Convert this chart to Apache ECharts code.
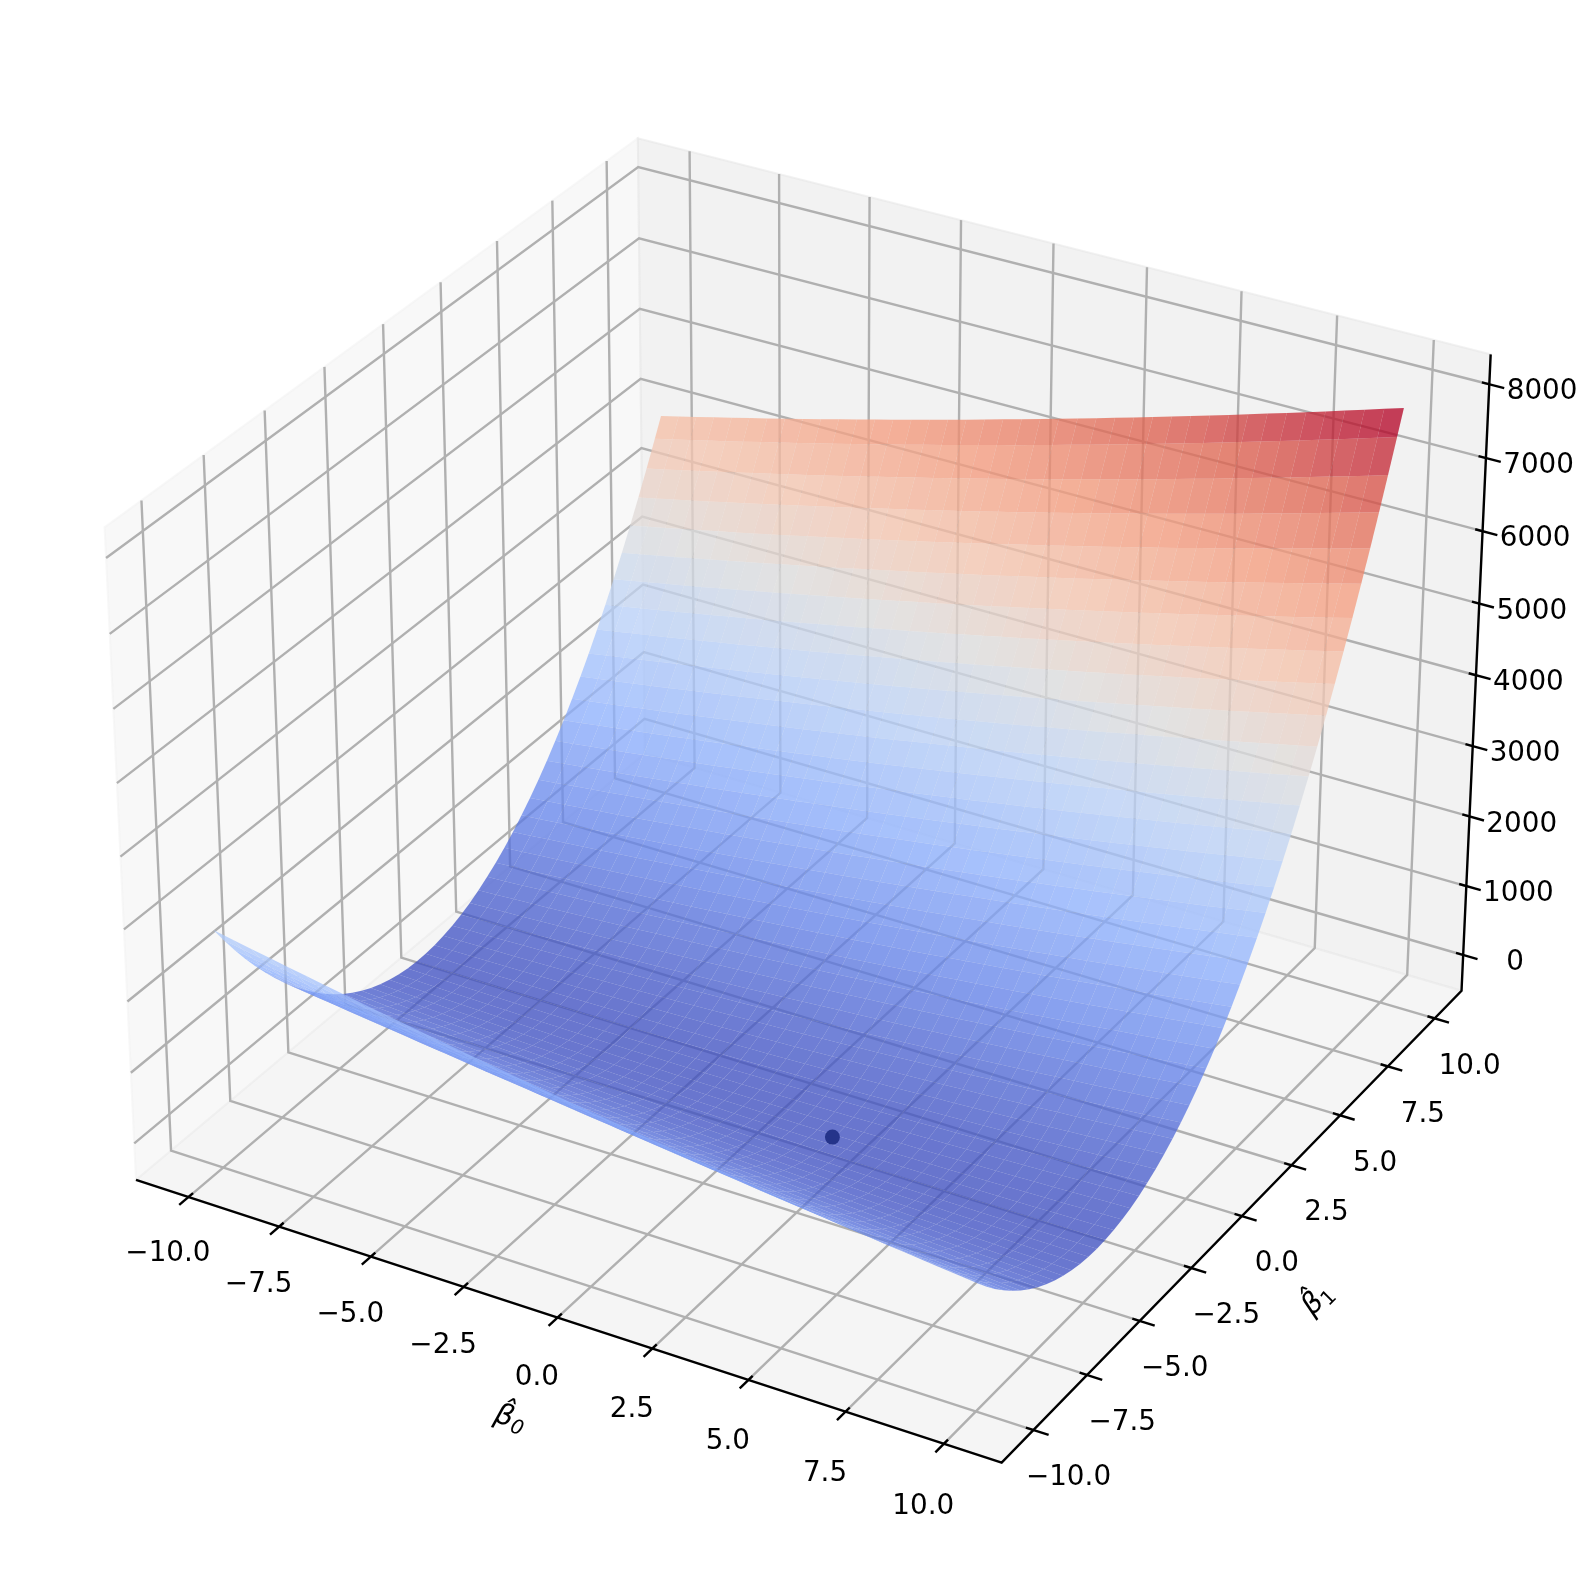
<!DOCTYPE html>
<html><head><meta charset="utf-8"><style>html,body{margin:0;background:#fff}#c{width:1596px;height:1580px}</style>
<script src="https://cdn.jsdelivr.net/npm/echarts@6/dist/echarts.min.js"></script></head><body><div id="c"></div><script>
const b0Grid=[-10,-9.5,-9,-8.5,-8,-7.5,-7,-6.5,-6,-5.5,-5,-4.5,-4,-3.5,-3,-2.5,-2,-1.5,-1,-0.5,0,0.5,1,1.5,2,2.5,3,3.5,4,4.5,5,5.5,6,6.5,7,7.5,8,8.5,9,9.5,10];
const b1Grid=[-10,-9.598,-9.196,-8.794,-8.392,-7.99,-7.588,-7.186,-6.784,-6.382,-5.98,-5.578,-5.176,-4.774,-4.372,-3.97,-3.568,-3.166,-2.764,-2.362,-1.96,-1.558,-1.156,-0.754,-0.352,0.05,0.452,0.854,1.256,1.658,2.06,2.462,2.864,3.266,3.668,4.07,4.472,4.874,5.276,5.678,6.08,6.482,6.884,7.286,7.688,8.09,8.492,8.894,9.296,9.698,10];
// loss at each (b0, b1); one row per b1 value
const lossTable=[
[2825,2776,2727,2679,2631,2584,2537,2491,2445,2400,2355,2311,2267,2224,2181,2139,2097,2056,2015,1975,1935,1896,1857,1819,1781,1744,1707,1671,1635,1600,1565,1531,1497,1464,1431,1399,1367,1336,1305,1275,1245],
[2573,2526,2479,2433,2388,2342,2298,2254,2210,2167,2125,2083,2041,2000,1960,1920,1880,1841,1802,1764,1727,1690,1653,1617,1582,1547,1512,1478,1445,1412,1379,1347,1315,1284,1254,1224,1194,1165,1137,1109,1081],
[2332,2288,2243,2199,2156,2113,2071,2029,1988,1947,1907,1867,1827,1789,1750,1712,1675,1638,1602,1566,1531,1496,1462,1428,1394,1362,1329,1297,1266,1235,1205,1175,1146,1117,1089,1061,1034,1007,980,955,929],
[2104,2062,2020,1978,1937,1896,1856,1816,1777,1739,1701,1663,1626,1589,1553,1517,1482,1448,1414,1380,1347,1314,1282,1250,1219,1189,1159,1129,1100,1071,1043,1016,989,962,936,910,885,860,836,813,790],
[1888,1848,1808,1769,1730,1691,1653,1616,1579,1543,1507,1471,1436,1402,1368,1335,1302,1269,1237,1206,1175,1145,1115,1085,1057,1028,1000,973,946,920,894,868,843,819,795,772,749,726,704,683,662],
[1685,1646,1609,1571,1535,1499,1463,1428,1393,1359,1325,1292,1259,1227,1195,1164,1133,1103,1074,1044,1016,987,960,933,906,880,854,829,804,780,756,733,710,688,666,645,625,604,585,566,547],
[1493,1457,1421,1386,1352,1318,1285,1252,1219,1187,1156,1125,1094,1064,1035,1006,977,949,922,895,868,842,817,792,767,743,720,697,674,652,631,610,589,569,550,531,513,494,477,460,444],
[1313,1280,1246,1214,1181,1150,1118,1087,1057,1027,998,969,941,913,886,859,833,807,782,757,733,709,686,663,641,619,598,577,557,537,518,499,481,463,446,429,413,397,381,367,352],
[1146,1115,1083,1053,1023,993,964,936,908,880,853,826,800,775,750,725,701,678,654,632,610,588,567,547,527,507,488,469,451,434,417,400,384,369,354,339,325,311,298,286,274],
[991,962,933,904,877,849,822,796,770,745,720,696,672,648,626,603,581,560,539,519,499,480,461,442,425,407,390,374,358,343,328,314,300,286,274,261,249,238,227,217,207],
[848,821,794,768,742,717,693,668,645,622,599,577,555,534,513,493,474,454,436,418,400,383,366,350,335,319,305,291,277,264,251,239,227,216,206,195,186,177,168,160,152],
[717,692,668,644,620,597,575,553,532,511,490,470,451,432,413,395,378,361,345,329,313,298,284,270,257,244,231,219,208,197,187,177,167,158,150,142,135,128,121,115,110],
[598,576,553,532,510,490,469,450,431,412,394,376,359,342,326,310,295,280,266,252,239,226,214,202,191,180,170,160,151,142,134,126,119,112,106,100,95,91,86,83,80],
[492,471,451,432,413,394,376,359,342,325,309,294,279,264,250,237,224,211,199,188,177,166,156,147,138,129,121,114,107,100,94,89,84,79,75,72,69,66,64,63,62],
[397,379,361,344,327,311,295,280,265,251,237,223,211,198,187,175,165,154,145,135,126,118,110,103,96,90,84,79,74,70,66,63,60,58,56,54,54,53,54,54,56],
[315,299,283,268,254,240,226,213,200,188,177,166,155,145,135,126,118,110,102,95,88,82,77,72,67,63,59,56,54,52,50,49,48,48,49,50,51,53,55,58,62],
[245,231,218,205,192,180,169,158,148,138,129,120,111,104,96,89,83,77,72,67,62,59,55,52,50,48,47,46,46,46,46,47,49,51,54,57,60,65,69,75,80],
[187,175,164,154,143,134,125,116,108,100,93,86,80,74,69,65,60,57,54,51,49,47,46,45,45,45,46,48,49,52,55,58,62,66,71,76,82,88,95,103,110],
[141,132,123,114,106,99,92,86,80,74,69,65,61,57,54,52,50,49,48,47,47,48,49,50,52,55,58,62,66,70,75,81,87,93,100,108,116,125,134,143,153],
[108,100,94,87,82,76,72,67,64,60,58,55,54,52,52,51,52,52,54,55,58,60,64,68,72,76,82,88,94,101,108,116,124,133,142,152,162,173,184,196,208],
[86,81,77,72,69,66,63,61,60,59,58,58,59,60,61,63,66,69,72,76,81,85,91,97,103,110,118,126,134,143,153,163,173,184,196,208,220,233,247,261,275],
[77,74,72,70,68,68,67,68,68,69,71,73,76,79,83,87,92,97,102,108,115,122,130,138,147,156,166,176,187,198,210,222,235,248,261,276,290,305,321,337,354],
[80,79,79,79,80,82,83,86,89,92,96,100,105,111,117,123,130,137,145,153,162,172,182,192,203,214,226,239,252,265,279,293,308,324,339,356,373,390,408,426,445],
[95,96,98,101,104,108,112,116,121,127,133,140,147,154,163,171,180,190,200,210,222,233,245,258,271,285,299,313,328,344,360,377,394,411,430,448,467,487,507,528,549],
[122,125,130,135,140,146,152,159,166,174,182,191,200,210,221,231,243,254,267,279,293,307,321,336,351,367,383,400,417,435,454,472,492,512,532,553,574,596,618,641,664],
[161,167,173,180,188,196,205,214,223,233,244,255,266,278,291,304,317,331,346,361,376,392,409,426,444,462,480,499,519,539,559,580,602,624,646,669,693,717,741,766,792],
[212,221,229,239,248,259,269,281,292,304,317,330,344,358,373,388,404,420,437,454,472,491,509,528,548,568,589,610,632,654,677,700,724,748,773,798,824,850,877,904,932],
[276,287,297,309,321,333,346,360,373,388,403,418,434,451,468,485,503,522,540,560,580,600,621,643,665,687,710,734,758,782,807,832,858,885,912,939,967,996,1025,1054,1084],
[352,364,378,391,405,420,435,451,467,483,501,518,537,555,574,594,614,635,656,678,700,722,746,769,793,818,843,869,895,922,949,977,1005,1033,1063,1092,1122,1153,1184,1216,1248],
[440,454,470,486,502,519,536,554,572,591,611,631,651,672,693,715,737,760,784,808,832,857,882,908,934,961,989,1016,1045,1074,1103,1133,1163,1194,1226,1257,1290,1323,1356,1390,1424],
[540,557,574,592,611,630,650,670,690,711,733,755,778,801,824,848,873,898,924,950,976,1003,1031,1059,1088,1117,1146,1176,1207,1238,1270,1302,1334,1367,1401,1435,1470,1505,1540,1576,1613],
[652,671,691,711,732,753,775,797,820,843,867,892,916,942,967,994,1020,1048,1075,1104,1133,1162,1192,1222,1253,1284,1316,1348,1381,1414,1448,1482,1517,1552,1588,1625,1661,1699,1736,1775,1813],
[776,798,820,842,865,889,913,937,962,988,1014,1040,1067,1095,1123,1151,1180,1210,1240,1270,1301,1333,1365,1397,1430,1464,1498,1532,1567,1603,1639,1675,1712,1750,1788,1826,1865,1905,1945,1985,2026],
[913,936,961,985,1011,1036,1062,1089,1116,1144,1172,1201,1230,1260,1290,1321,1352,1384,1416,1449,1482,1516,1550,1585,1620,1656,1692,1729,1766,1803,1842,1880,1920,1959,1999,2040,2081,2123,2165,2208,2251],
[1061,1087,1114,1141,1168,1196,1224,1253,1283,1313,1343,1374,1405,1437,1470,1503,1536,1570,1604,1639,1675,1711,1747,1784,1821,1860,1898,1937,1976,2016,2057,2097,2139,2181,2223,2266,2310,2353,2398,2443,2488],
[1222,1250,1279,1308,1338,1368,1398,1429,1461,1493,1526,1559,1593,1627,1661,1697,1732,1768,1805,1842,1880,1918,1957,1996,2035,2076,2116,2157,2199,2241,2284,2327,2370,2415,2459,2504,2550,2596,2643,2690,2738],
[1395,1425,1456,1488,1520,1552,1585,1618,1652,1686,1721,1756,1792,1829,1865,1903,1941,1979,2018,2057,2097,2137,2178,2220,2261,2304,2347,2390,2434,2478,2523,2568,2614,2661,2707,2755,2803,2851,2900,2949,2999],
[1580,1613,1646,1679,1713,1748,1783,1819,1855,1891,1928,1966,2004,2042,2082,2121,2161,2202,2243,2284,2326,2369,2412,2455,2500,2544,2589,2635,2681,2727,2774,2822,2870,2919,2968,3017,3067,3118,3169,3220,3272],
[1777,1812,1848,1883,1920,1956,1994,2031,2070,2108,2148,2188,2228,2268,2310,2351,2394,2436,2480,2523,2568,2613,2658,2704,2750,2797,2844,2892,2940,2989,3038,3088,3138,3189,3240,3292,3344,3397,3450,3504,3558],
[1987,2024,2061,2099,2138,2177,2216,2256,2297,2338,2379,2421,2464,2507,2550,2594,2638,2683,2729,2775,2821,2868,2916,2964,3012,3061,3111,3161,3211,3262,3314,3366,3418,3471,3525,3579,3633,3688,3744,3800,3856],
[2208,2248,2287,2327,2368,2409,2451,2493,2536,2579,2623,2667,2712,2757,2803,2849,2895,2942,2990,3039,3087,3136,3186,3236,3287,3338,3390,3442,3495,3548,3602,3656,3711,3766,3821,3878,3934,3991,4049,4107,4166],
[2442,2484,2526,2568,2611,2654,2698,2742,2787,2833,2879,2925,2972,3019,3067,3116,3165,3214,3264,3314,3365,3417,3469,3521,3574,3627,3681,3736,3790,3846,3902,3958,4015,4072,4130,4189,4248,4307,4367,4427,4488],
[2688,2732,2776,2820,2866,2911,2957,3004,3051,3099,3147,3195,3244,3294,3344,3395,3446,3497,3550,3602,3655,3709,3763,3818,3873,3928,3985,4041,4098,4156,4214,4273,4332,4391,4451,4512,4573,4635,4697,4759,4823],
[2946,2992,3038,3085,3132,3180,3228,3277,3327,3377,3427,3478,3529,3581,3633,3686,3739,3793,3847,3902,3957,4013,4070,4127,4184,4242,4300,4359,4418,4478,4538,4599,4660,4722,4784,4847,4911,4975,5039,5104,5169],
[3216,3264,3313,3362,3411,3461,3512,3563,3614,3667,3719,3772,3826,3880,3934,3989,4045,4101,4157,4214,4272,4330,4388,4447,4507,4567,4628,4689,4750,4812,4875,4938,5001,5065,5130,5195,5260,5327,5393,5460,5528],
[3499,3549,3600,3651,3703,3755,3808,3861,3915,3969,4024,4079,4134,4191,4248,4305,4362,4421,4480,4539,4598,4659,4720,4781,4842,4905,4968,5031,5094,5159,5224,5289,5354,5421,5487,5555,5622,5691,5759,5829,5898],
[3793,3846,3899,3952,4006,4061,4115,4171,4227,4283,4340,4398,4456,4514,4573,4632,4692,4753,4814,4875,4937,5000,5063,5126,5190,5255,5319,5385,5451,5517,5584,5652,5720,5788,5857,5927,5997,6067,6138,6209,6281],
[4100,4154,4210,4265,4321,4378,4435,4493,4551,4610,4669,4728,4789,4849,4911,4972,5034,5097,5160,5224,5288,5353,5418,5483,5550,5616,5684,5751,5819,5888,5957,6027,6097,6168,6239,6311,6383,6455,6529,6602,6676],
[4418,4475,4533,4591,4649,4708,4767,4827,4888,4948,5010,5072,5134,5197,5260,5324,5389,5453,5519,5585,5651,5718,5785,5853,5922,5990,6060,6130,6200,6271,6342,6414,6487,6560,6633,6707,6781,6856,6931,7007,7084],
[4749,4808,4868,4928,4989,5050,5112,5174,5236,5299,5363,5427,5492,5557,5622,5688,5755,5822,5890,5958,6026,6095,6165,6235,6306,6377,6448,6520,6593,6666,6740,6814,6888,6964,7039,7115,7192,7269,7346,7424,7503],
[5005,5066,5127,5189,5251,5314,5377,5441,5505,5570,5635,5701,5767,5834,5901,5969,6037,6106,6175,6246,6315,6386,6457,6529,6601,6674,6747,6821,6895,6970,7045,7121,7197,7274,7351,7429,7507,7586,7665,7745,7825]
];
const b0Ticks=[-10,-7.5,-5,-2.5,0,2.5,5,7.5,10];
const b1Ticks=[-10,-7.5,-5,-2.5,0,2.5,5,7.5,10];
const lossTicks=[0,1000,2000,3000,4000,5000,6000,7000,8000];
const b0Labels=['−10.0','−7.5','−5.0','−2.5','0.0','2.5','5.0','7.5','10.0'];
const b1Labels=['−10.0','−7.5','−5.0','−2.5','0.0','2.5','5.0','7.5','10.0'];
const lossLabels=['0','1000','2000','3000','4000','5000','6000','7000','8000'];
const bestB0=[2.46],bestB1=[-3.27],bestLoss=[45];

// 3D view: elevation 30, azimuth -60, box 4:4:3, seen from distance 10
const XL=11.458,ZLO=-523,ZHI=8402,HX=0.59524,HZ=0.44643;
const U=[0.866025,0.5,0],V=[-0.25,0.433013,0.866025],W=[0.433013,-0.75,0.5];
function view(p){
  const q=[p[0]/XL*HX,p[1]/XL*HX,(p[2]-(ZLO+ZHI)/2)/((ZHI-ZLO)/2)*HZ];
  const dot=(a)=>a[0]*q[0]+a[1]*q[1]+a[2]*q[2];
  const d=10-dot(W);
  return [dot(U)/d,dot(V)/d,d];
}
const SCALE=8330,CX=811,CY=768.6,WIDTH=1596,HEIGHT=1580;

const stops=[[59,76,192],[98,130,234],[141,176,254],[184,208,249],[221,221,221],[245,196,173],[244,154,123],[222,96,77],[180,4,38]];
function coolwarm(t){
  const f=Math.min(0.99999,Math.max(0,t))*8,i=Math.floor(f),r=f-i,a=stops[i],b=stops[i+1];
  return 'rgba('+[0,1,2].map(k=>Math.round(a[k]+(b[k]-a[k])*r)).join(',')+',0.76)';
}

// panes
const panes=[
 {pts:[[-XL,-XL,ZLO],[-XL,XL,ZLO],[-XL,XL,ZHI],[-XL,-XL,ZHI]],c:'rgba(242,242,242,0.5)'},
 {pts:[[-XL,XL,ZLO],[XL,XL,ZLO],[XL,XL,ZHI],[-XL,XL,ZHI]],c:'rgba(230,230,230,0.5)'},
 {pts:[[-XL,-XL,ZLO],[XL,-XL,ZLO],[XL,XL,ZLO],[-XL,XL,ZLO]],c:'rgba(236,236,236,0.5)'}
];
// grid lines and axes
const GRID='#b0b0b0',INK='#000000',D=2*XL/12;
const lines=[];
b0Ticks.forEach(t=>{lines.push({p:[[t,-XL,ZLO],[t,XL,ZLO],[t,XL,ZHI]],c:GRID});});
b1Ticks.forEach(t=>{lines.push({p:[[XL,t,ZLO],[-XL,t,ZLO],[-XL,t,ZHI]],c:GRID});});
lossTicks.forEach(t=>{lines.push({p:[[-XL,-XL,t],[-XL,XL,t],[XL,XL,t]],c:GRID});});
lines.push({p:[[-XL,-XL,ZLO],[XL,-XL,ZLO],[XL,XL,ZLO],[XL,XL,ZHI]],c:INK});
b0Ticks.forEach(t=>{lines.push({p:[[t,-XL+0.1*D,ZLO],[t,-XL-0.2*D,ZLO]],c:INK});});
b1Ticks.forEach(t=>{lines.push({p:[[XL-0.1*D,t,ZLO],[XL+0.2*D,t,ZLO]],c:INK});});
lossTicks.forEach(t=>{lines.push({p:[[XL-0.1*D,XL,t],[XL+0.2*D,XL,t]],c:INK});});

// surface facets, far ones first
const allFacets=[];
for(let i=0;i<b1Grid.length-1;i++)for(let j=0;j<b0Grid.length-1;j++){
  const c=[[j,i],[j+1,i],[j+1,i+1],[j,i+1]].map(([a,b])=>[b0Grid[a],b1Grid[b],lossTable[b][a]]);
  const avg=(c[0][2]+c[1][2]+c[2][2]+c[3][2])/4;
  const depth=c.reduce((s,p)=>s+view(p)[2],0)/4;
  allFacets.push({c,avg,depth});
}
allFacets.sort((a,b)=>b.depth-a.depth);
const zMin=Math.min(...allFacets.map(f=>f.avg)),zMax=Math.max(...allFacets.map(f=>f.avg));

// tick labels
const texts=[];
b0Ticks.forEach((t,i)=>texts.push({p:[t,-XL,ZLO],s:b0Labels[i],dx:-20.5,dy:60+t*0.3}));
b1Ticks.forEach((t,i)=>texts.push({p:[XL,t,ZLO],s:b1Labels[i],dx:35,dy:48}));
lossTicks.forEach((t,i)=>texts.push({p:[XL,XL,t],s:lossLabels[i],dx:52+t*0.0001,dy:8}));

const FONT='"DejaVu Sans"';
const titles=[
 {p:[0,-XL,ZLO],dx:-47.4,dy:101.4,rot:-18,s:'{b|β̂}{s|0}',sub:'italic'},
 {p:[XL,0,ZLO],dx:76,dy:84,rot:45,s:'{b|β̂}{s|1}',sub:'normal'}
];
function project(api,p){const v=view(p);return api.coord([v[0],v[1]]);}
function custom(name,n,z,render){
  return {type:'custom',name,coordinateSystem:'cartesian2d',silent:true,animation:false,progressive:0,z,clip:false,
    data:Array.from({length:n},(_,i)=>[0,0,i]),encode:{x:0,y:1},renderItem:render};
}
const option={
  backgroundColor:'#ffffff',animation:false,
  grid:{left:0,right:0,top:0,bottom:0},
  xAxis:{type:'value',show:false,min:-CX/SCALE,max:(WIDTH-CX)/SCALE},
  yAxis:{type:'value',show:false,min:(CY-HEIGHT)/SCALE,max:CY/SCALE},
  series:[
    custom('panes',panes.length,1,(o,api)=>{const f=panes[o.dataIndex];
      return {type:'polygon',shape:{points:f.pts.map(p=>project(api,p))},style:{fill:f.c,stroke:f.c,lineWidth:2}};}),
    custom('axes',lines.length,2,(o,api)=>{const l=lines[o.dataIndex];
      return {type:'polyline',shape:{points:l.p.map(p=>project(api,p))},style:{fill:null,stroke:l.c,lineWidth:2.4,lineJoin:'miter'}};}),
    custom('loss surface',allFacets.length,3,(o,api)=>{const f=allFacets[o.dataIndex];
      return {type:'polygon',shape:{points:f.c.map(p=>project(api,p))},style:{fill:coolwarm((f.avg-zMin)/(zMax-zMin))}};}),
    custom('minimum',bestB0.length,4,(o,api)=>{const k=o.dataIndex,c=project(api,[bestB0[k],bestB1[k],bestLoss[k]]);
      return {type:'circle',shape:{cx:c[0],cy:c[1],r:7.5},style:{fill:'#25348a'}};}),
    custom('tick labels',texts.length,5,(o,api)=>{const t=texts[o.dataIndex],c=project(api,t.p);
      return {type:'text',x:c[0]+t.dx,y:c[1]+t.dy,style:{text:t.s,font:'27.8px '+FONT,fill:'#000',align:'center',verticalAlign:'middle'}};}),
    custom('axis titles',titles.length,5,(o,api)=>{const t=titles[o.dataIndex],c=project(api,t.p);
      return {type:'text',x:c[0]+t.dx,y:c[1]+t.dy,rotation:t.rot*Math.PI/180,
        style:{text:t.s,align:'center',verticalAlign:'middle',fill:'#000',
          rich:{b:{font:'italic 29px '+FONT,lineHeight:34,fill:'#000'},
                s:{font:t.sub+' 20px '+FONT,lineHeight:34,verticalAlign:'bottom',fill:'#000'}}}};})
  ]
};
echarts.init(document.getElementById('c'),null,{renderer:'canvas'}).setOption(option);
</script></body></html>
